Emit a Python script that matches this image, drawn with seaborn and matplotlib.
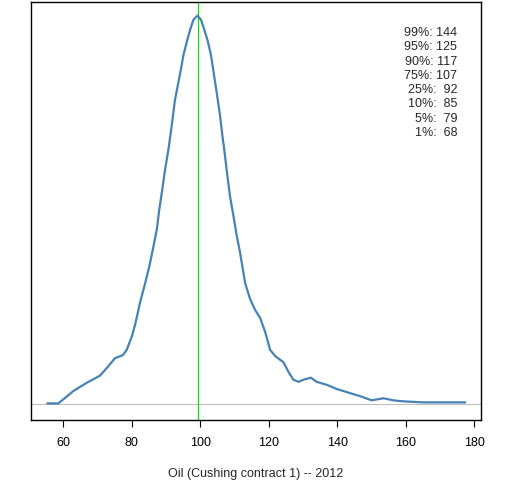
import numpy as np
import pandas as pd
import seaborn as sb
import matplotlib
matplotlib.use('Agg')
import matplotlib.pyplot as plt

# density of oil price (Cushing contract 1)
price = [55.3, 58.5, 60.0, 62.9, 66.8, 70.7, 73.1, 75.1, 77.4, 78.5,
         80.0, 81.0, 82.4, 83.9, 85.1, 86.1, 87.3, 88.0, 88.9, 89.7,
         90.7, 91.7, 92.6, 93.6, 94.3, 95.1, 96.1, 97.0, 98.0, 99.2,
         100.2, 101.2, 102.2, 103.1, 103.8, 104.8, 105.8, 106.5, 107.0, 107.7,
         108.7, 109.7, 110.7, 111.6, 113.1, 114.6, 116.0, 117.5, 119.0, 120.4,
         121.9, 124.3, 125.7, 127.2, 128.7, 130.1, 132.3, 134.0, 137.0, 139.9,
         142.8, 146.7, 150.1, 153.5, 156.4, 159.3, 165.2, 177.4]
density = [0.0001, 0.0001, 0.0005, 0.0013, 0.0021, 0.0028, 0.0037, 0.0045, 0.0048, 0.0053,
           0.0066, 0.0078, 0.0099, 0.0118, 0.0134, 0.0150, 0.0170, 0.0189, 0.0209, 0.0228,
           0.0248, 0.0272, 0.0296, 0.0313, 0.0325, 0.0340, 0.0353, 0.0364, 0.0374, 0.0378,
           0.0374, 0.0364, 0.0353, 0.0340, 0.0325, 0.0303, 0.0280, 0.0260, 0.0248, 0.0228,
           0.0202, 0.0183, 0.0163, 0.0148, 0.0118, 0.0102, 0.0092, 0.0084, 0.0070, 0.0053,
           0.0047, 0.0041, 0.0032, 0.0024, 0.0022, 0.0024, 0.0026, 0.0022, 0.0019, 0.0015,
           0.0012, 0.0008, 0.0004, 0.0006, 0.0004, 0.0003, 0.0002, 0.0002]

median_price = 99.2
quant_labels = ['99%', '95%', '90%', '75%', '25%', '10%', '5%', '1%']
quant_values = [144, 125, 117, 107, 92, 85, 79, 68]
x_ticks = [60, 80, 100, 120, 140, 160, 180]

df = pd.DataFrame({'price': price, 'density': density})

sb.set_style('white')
plt.rcParams['font.family'] = ['Liberation Sans', 'DejaVu Sans']
plt.rcParams['font.size'] = 9

fig = plt.figure(figsize=(5.12, 4.8), dpi=100)
ax = fig.add_axes([31 / 512, 60 / 480, 450 / 512, 418 / 480])

ax.axhline(0, color='#bebebe', lw=0.8, zorder=1)
ax.axvline(median_price, color='#00e000', lw=0.8, zorder=1)
sb.lineplot(data=df, x='price', y='density', color='steelblue', lw=1.6, ax=ax, zorder=2)

top = max(density)
ax.set_ylim(-0.04 * top, 1.035 * top)
ax.set_xlim(50.55, 182.0)
ax.set_xticks(x_ticks)
ax.set_yticks([])
ax.set_ylabel('')
ax.set_xlabel('Oil (Cushing contract 1) -- 2012', fontsize=9, labelpad=14)
ax.tick_params(axis='x', direction='out', length=5, width=0.8, pad=7,
               bottom=True, labelsize=9, colors='black')

for s in ax.spines.values():
    s.set_color('black')
    s.set_linewidth(1.0)

for i, (lab, val) in enumerate(zip(quant_labels, quant_values)):
    ax.text(0.947, 0.926 - i * 0.0342, f'{lab}: {val:>3}', transform=ax.transAxes,
            ha='right', va='center', fontsize=9)

plt.savefig('out.png', dpi=100)
